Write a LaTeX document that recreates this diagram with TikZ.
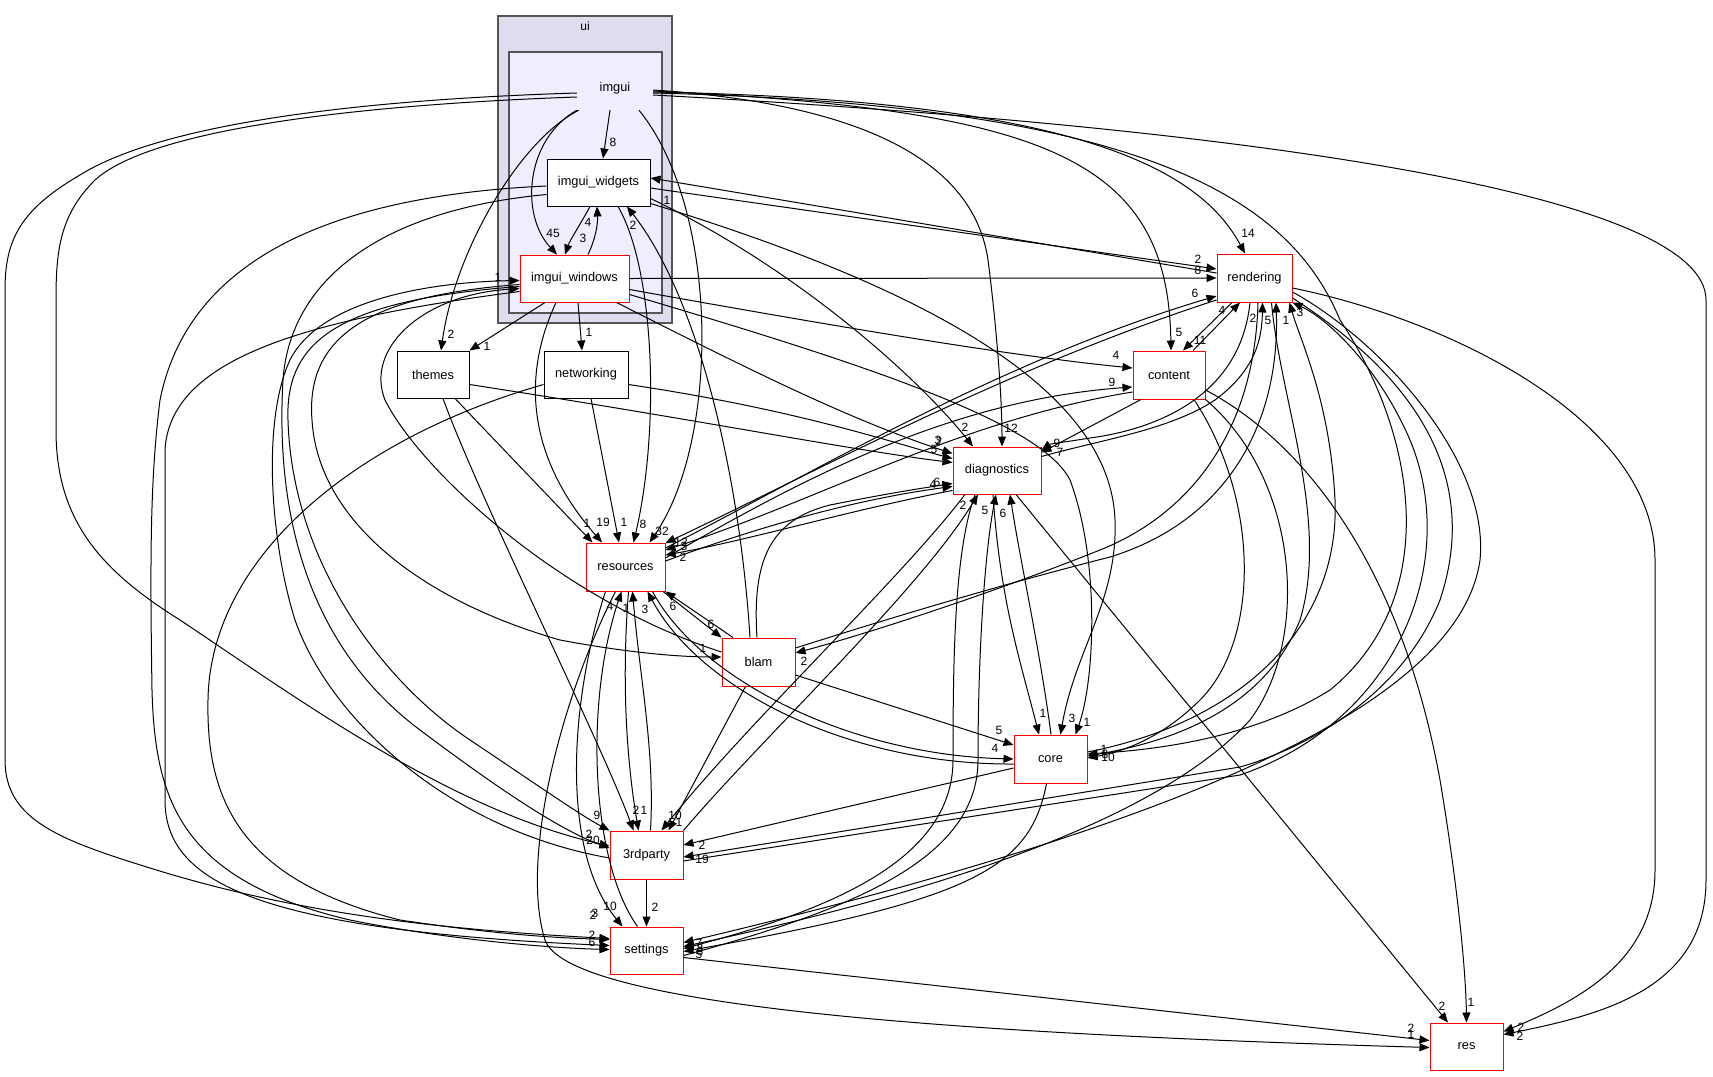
\documentclass[tikz,border=0pt]{standalone}
\usepackage{fontspec}
\setmainfont{Liberation Sans}
\usetikzlibrary{arrows.meta}
\definecolor{uifill}{HTML}{DDDDEE}
\definecolor{imguifill}{HTML}{EEEEFF}
\definecolor{clustline}{HTML}{555555}

\begin{document}
\begin{tikzpicture}[x=1pt, y=-1pt,
    dirbox/.style={draw=black, fill=white, line width=1pt, minimum width=73pt,
      minimum height=47pt, inner sep=0pt, font=\fontsize{12.8}{15}\selectfont},
    redbox/.style={dirbox, draw=red},
    dep/.style={line width=1pt, -{Triangle[length=10pt,width=8pt]}},
    lbl/.style={font=\fontsize{12}{14}\selectfont, inner sep=0pt}]
  \useasboundingbox[fill=white] (0,0) rectangle (1713,1076);

  % clusters
  \draw[fill=uifill, draw=clustline, line width=1.5pt] (498,16) rectangle (672,323);
  \draw[fill=imguifill, draw=clustline, line width=1.5pt] (509,52) rectangle (662,313);
  \node[lbl] (ui) at (585,26) {ui};

  % directories
  \node[font=\fontsize{12.8}{15}\selectfont, minimum width=76pt, minimum height=44pt,
    inner sep=0pt] (imgui) at (615,88) {imgui};
  \node[dirbox, minimum width=103pt] (wdg) at (598.5,182.5) {imgui\_widgets};
  \node[redbox, minimum width=109pt] (win) at (574.5,278.5) {imgui\_windows};
  \node[dirbox, minimum width=72pt] (thm) at (433,374.5) {themes};
  \node[dirbox, minimum width=84pt] (net) at (586,374.5) {networking};
  \node[redbox, minimum width=79pt, minimum height=48pt] (rsc) at (625.5,567) {resources};
  \node[redbox, minimum height=48pt] (blam) at (758.5,662) {blam};
  \node[redbox, minimum width=75pt, minimum height=48pt] (rnd) at (1254.5,278) {rendering};
  \node[redbox, minimum width=72pt, minimum height=48pt] (cnt) at (1169,375) {content};
  \node[redbox, minimum width=88pt] (diag) at (997,470.5) {diagnostics};
  \node[redbox, minimum height=48pt] (core) at (1050.5,759) {core};
  \node[redbox, minimum height=48pt] (tp) at (646.5,855) {3rdparty};
  \node[redbox] (set) at (646.5,950.5) {settings};
  \node[redbox] (res) at (1466.5,1046.5) {res};

  % imgui
  \draw[dep] ([xshift=-5]imgui.south) -- ([xshift=4.5]wdg.north) node[lbl] (l1) at (613,142) {8};
  \draw[dep] (imgui.south west) .. controls (525,140) and (520,215) .. ([xshift=-17.5]win.north)
    node[lbl] (l2) at (553,233) {45};
  \draw[dep] ([xshift=2]imgui.south west) .. controls (520,140) and (455,250) .. ([xshift=8]thm.north)
    node[lbl] (l3) at (451,334) {2};
  \draw[dep] ([xshift=24]imgui.south) .. controls (720,210) and (720,440) .. ([xshift=24]rsc.north)
    node[lbl] (l4) at (662,531) {32};
  \draw[dep] ([yshift=-2]imgui.east) .. controls (880,105) and (975,170) .. (988,260)
    .. controls (997,330) and (1002,400) .. ([xshift=5]diag.north) node[lbl] (l5) at (1011,428) {12};
  \draw[dep] ([yshift=-3]imgui.east) .. controls (1050,110) and (1168,160) .. ([xshift=2]cnt.north)
    node[lbl] (l6) at (1179,332) {5};
  \draw[dep] ([yshift=-4]imgui.east) .. controls (1080,100) and (1200,170) .. ([xshift=-9.5]rnd.north)
    node[lbl] (l7) at (1248,233) {14};
  \draw[dep] ([yshift=-5]imgui.east) .. controls (1150,105) and (1290,200) .. (1340,320)
    .. controls (1420,440) and (1440,600) .. (1330,690)
    .. controls (1250,740) and (1150,750) .. ([yshift=5]core.east) node[lbl] (l8) at (1104,749) {1};
  \draw[dep] ([yshift=-7]imgui.east) .. controls (1300,130) and (1706,200) .. (1706,300) -- (1706,880)
    .. controls (1706,990) and (1600,1015) .. ([yshift=12]res.east) node[lbl] (l9) at (1521,1027) {2};
  \draw[dep] ([yshift=-9]imgui.west) .. controls (350,105) and (150,130) .. (95,180)
    .. controls (60,215) and (56,250) .. (56,300) -- (56,430)
    .. controls (56,520) and (100,570) .. (180,620)
    .. controls (300,700) and (450,810) .. ([yshift=9]tp.west) node[lbl] (l10) at (593,840) {20};
  \draw[dep] ([yshift=-5]imgui.west) .. controls (350,100) and (160,125) .. (80,175)
    .. controls (20,210) and (5,240) .. (5,290) -- (5,760)
    .. controls (5,820) and (60,840) .. (150,868)
    .. controls (300,915) and (450,930) .. ([yshift=12]set.west) node[lbl] (l11) at (593,915) {2};

  % imgui_widgets
  \draw[dep] ([xshift=-8.5]wdg.south) .. controls (580,225) and (570,240) .. ([xshift=-9.5]win.north)
    node[lbl] (l12) at (583,238) {3};
  \draw[dep] ([xshift=13.5]win.north) .. controls (595,240) and (598,225) .. ([xshift=-1.5]wdg.south)
    node[lbl] (l13) at (588,222) {4};
  \draw[dep] ([yshift=-5.5]wdg.east) -- ([yshift=9]rnd.west) node[lbl] (l14) at (1198,259) {2};
  \draw[dep] ([yshift=5]rnd.west) -- ([yshift=4.5]wdg.east) node[lbl] (l15) at (667,200) {1};
  \draw[dep] ([yshift=-16]wdg.east) .. controls (800,270) and (920,380) .. ([xshift=-24]diag.north)
    node[lbl] (l16) at (965,427) {2};
  \draw[dep] ([yshift=-21]wdg.east) .. controls (900,280) and (1110,380) .. (1115,520)
    .. controls (1118,600) and (1075,650) .. ([xshift=10]core.north) node[lbl] (l17) at (1072,718) {3};
  \draw[dep] ([xshift=19.5]wdg.south) .. controls (655,270) and (660,430) .. ([xshift=8]rsc.north)
    node[lbl] (l18) at (643,524) {8};
  \draw[dep] ([yshift=-12]wdg.west) .. controls (380,210) and (290,280) .. (283,380)
    .. controls (276,500) and (300,640) .. (420,730)
    .. controls (500,790) and (560,830) .. ([yshift=7]tp.west) node[lbl] (l19) at (589,834) {2};
  \draw[dep] ([yshift=-3.5]wdg.west) .. controls (350,195) and (190,250) .. (160,400)
    .. controls (150,480) and (150,560) .. (152,690)
    .. controls (155,800) and (180,880) .. (350,920)
    .. controls (450,940) and (550,948) .. ([yshift=1]set.west) node[lbl] (l20) at (592,942) {6};
  \draw[dep] ([xshift=-8.5]blam.north) .. controls (740,480) and (700,300) .. ([xshift=28.5]wdg.south)
    node[lbl] (l21) at (633,225) {2};

  % imgui_windows
  \draw[dep] (win.east) -- (rnd.west) node[lbl] (l22) at (1198,270) {8};
  \draw[dep] ([xshift=-29.5]win.south) -- (thm.north east) node[lbl] (l23) at (487,346) {1};
  \draw[dep] ([xshift=3.5]win.south) -- ([xshift=-4]net.north) node[lbl] (l24) at (589,332) {1};
  \draw[dep] ([xshift=-18.5]win.south) .. controls (520,380) and (530,460) .. ([xshift=-23.5]rsc.north)
    node[lbl] (l25) at (603,522) {19};
  \draw[dep] ([xshift=42]win.south) .. controls (750,370) and (850,420) .. ([yshift=17]diag.west)
    node[lbl] (l26) at (938,440) {3};
  \draw[dep] ([yshift=-11]win.east) .. controls (800,320) and (1000,355) .. ([yshift=7]cnt.west)
    node[lbl] (l27) at (1116,355) {4};
  \draw[dep] ([yshift=-16]win.east) .. controls (850,360) and (1040,420) .. (1070,480)
    .. controls (1100,560) and (1095,680) .. ([xshift=25]core.north) node[lbl] (l28) at (1087,722) {1};
  \draw[dep] ([yshift=-6]win.west) .. controls (380,295) and (305,330) .. (312,420)
    .. controls (318,520) and (420,600) .. (560,640)
    .. controls (640,655) and (690,657) .. ([yshift=5]blam.west) node[lbl] (l29) at (703,648) {1};
  \draw[dep] ([yshift=10]blam.west) .. controls (560,600) and (420,470) .. (385,400)
    .. controls (365,350) and (420,295) .. ([yshift=-10]win.west);
  \draw[dep] ([yshift=-8]win.west) .. controls (340,300) and (285,340) .. (288,420)
    .. controls (292,560) and (380,680) .. (470,740)
    .. controls (530,780) and (580,815) .. (tp.north west) node[lbl] (l31) at (597,815) {9};
  \draw[dep] ([yshift=-3]tp.west) .. controls (450,830) and (330,720) .. (295,620)
    .. controls (270,540) and (262,420) .. (290,360)
    .. controls (320,300) and (430,282) .. ([yshift=-2]win.west) node[lbl] (l32) at (498,277) {1};
  \draw[dep] ([yshift=-13]win.west) .. controls (300,320) and (170,360) .. (165,450) -- (165,800)
    .. controls (165,880) and (250,930) .. ([yshift=5]set.west) node[lbl] (l33) at (592,935) {2};

  % themes, networking
  \draw[dep] ([xshift=5]net.south) -- ([xshift=-6.5]rsc.north) node[lbl] (l34) at (624,522) {1};
  \draw[dep] ([yshift=-10]net.east) .. controls (800,410) and (900,445) .. ([yshift=12]diag.west)
    node[lbl] (l35) at (939,441) {2};
  \draw[dep] ([yshift=-10]net.west) .. controls (350,440) and (210,560) .. (208,700)
    .. controls (206,800) and (240,880) .. (400,920)
    .. controls (500,935) and (560,938) .. ([yshift=11]set.west) node[lbl] (l36) at (595,913) {3};
  \draw[dep] ([xshift=22]thm.south) -- ([xshift=-33]rsc.north) node[lbl] (l37) at (587,523) {1};
  \draw[dep] ([yshift=-10]thm.east) .. controls (700,420) and (850,450) .. ([yshift=8]diag.west)
    node[lbl] (l38) at (934,449) {5};
  \draw[dep] ([xshift=10]thm.south) .. controls (480,500) and (600,740) .. ([xshift=-13]tp.north)
    node[lbl] (l39) at (636,810) {2};

  % resources
  \draw[dep] ([yshift=19]rsc.east) .. controls (800,480) and (1000,360) .. ([yshift=-18]rnd.west)
    node[lbl] (l40) at (1195,293) {6};
  \draw[dep] ([yshift=-22]rnd.west) .. controls (1000,370) and (800,480) .. ([yshift=24]rsc.east)
    node[lbl] (l41) at (681,542) {12};
  \draw[dep] ([yshift=9]rsc.east) .. controls (800,480) and (950,400) .. ([yshift=-12]cnt.west)
    node[lbl] (l42) at (1112,382) {9};
  \draw[dep] ([yshift=-17]cnt.west) .. controls (960,420) and (820,500) .. ([yshift=17]rsc.east)
    node[lbl] (l43) at (684,546) {3};
  \draw[dep] ([yshift=6]rsc.east) .. controls (750,530) and (850,500) .. ([yshift=-16]diag.west)
    node[lbl] (l44) at (933,484) {4};
  \draw[dep] ([yshift=-20]diag.west) .. controls (850,510) and (750,540) .. ([yshift=12]rsc.east)
    node[lbl] (l45) at (683,557) {2};
  \draw[dep] ([xshift=-1.5]blam.north) .. controls (752,560) and (770,520) .. (830,505)
    .. controls (880,495) and (910,490) .. ([yshift=-13]diag.west) node[lbl] (l46) at (937,482) {6};
  \draw[dep] ([xshift=37.5]rsc.south) -- (blam.north west) node[lbl] (l47) at (711,624) {6};
  \draw[dep] ([xshift=-25.5]blam.north) -- (rsc.south east) node[lbl] (l48) at (673,606) {6};
  \draw[dep] ([xshift=27]rsc.south) .. controls (700,680) and (850,755) .. (core.west)
    node[lbl] (l49) at (995,748) {4};
  \draw[dep] ([yshift=-5]core.west) .. controls (850,765) and (700,690) .. ([xshift=22]rsc.south)
    node[lbl] (l50) at (645,609) {3};
  \draw[dep] ([xshift=-20]rsc.south) .. controls (570,700) and (560,850) .. ([xshift=-24]set.north)
    node[lbl] (l51) at (610,906) {10};
  \draw[dep] ([xshift=-9]set.north) .. controls (590,860) and (585,700) .. ([xshift=-4]rsc.south)
    node[lbl] (l52) at (610,606) {4};
  \draw[dep] ([xshift=3]rsc.south) .. controls (620,700) and (630,780) .. ([xshift=-8]tp.north)
    node[lbl] (l53) at (644,810) {1};
  \draw[dep] ([xshift=4]tp.north) .. controls (655,750) and (640,680) .. ([xshift=7]rsc.south)
    node[lbl] (l54) at (626,608) {1};
  \draw[dep] ([xshift=-10]rsc.south) .. controls (560,700) and (520,860) .. (545,940)
    .. controls (570,1010) and (1000,1035) .. ([yshift=-1]res.west) node[lbl] (l55) at (1411,1034) {1};

  % blam
  \draw[dep] ([yshift=-13]blam.east) -- ([yshift=14]core.west) node[lbl] (l56) at (999,730) {5};
  \draw[dep] ([xshift=-13]blam.south) -- ([xshift=22]tp.north) node[lbl] (l57) at (679,822) {1};
  \draw[dep] ([xshift=3.5]rnd.south) .. controls (1255,420) and (1200,510) .. (1100,550)
    .. controls (1000,590) and (880,630) .. ([yshift=9]blam.east) node[lbl] (l58) at (804,661) {2};
  \draw[dep] ([yshift=14]blam.east) .. controls (900,615) and (1000,585) .. (1110,557)
    .. controls (1230,520) and (1280,420) .. ([xshift=21.5]rnd.south) node[lbl] (l59) at (1268,320) {5};

  % rendering, content
  \draw[dep] ([xshift=-22.5]rnd.south) -- ([xshift=14]cnt.north) node[lbl] (l60) at (1200,340) {11};
  \draw[dep] ([xshift=24]cnt.north) -- ([xshift=-14.5]rnd.south) node[lbl] (l61) at (1222,310) {4};
  \draw[dep] ([xshift=-4.5]rnd.south) .. controls (1240,400) and (1150,430) .. (1090,438)
    .. controls (1065,442) and (1050,444) .. ([yshift=20.5]diag.east) node[lbl] (l62) at (1057,443) {9};
  \draw[dep] ([yshift=14]diag.east) .. controls (1100,440) and (1170,430) .. (1215,400)
    .. controls (1255,370) and (1262,340) .. ([xshift=8]rnd.south) node[lbl] (l63) at (1253,318) {2};
  \draw[dep] ([xshift=-28]cnt.south) -- ([yshift=18]diag.east) node[lbl] (l64) at (1060,452) {7};
  \draw[dep] ([yshift=-10]rnd.east) .. controls (1450,320) and (1655,420) .. (1655,560) -- (1655,870)
    .. controls (1655,960) and (1580,1000) .. ([yshift=15]res.east) node[lbl] (l65) at (1520,1036) {2};
  \draw[dep] ([yshift=7]core.east) .. controls (1250,720) and (1340,620) .. (1335,500)
    .. controls (1330,400) and (1300,340) .. ([xshift=35]rnd.south) node[lbl] (l66) at (1286,320) {1};
  \draw[dep] ([xshift=17]rnd.south) .. controls (1280,400) and (1330,520) .. (1300,620)
    .. controls (1260,720) and (1150,745) .. ([yshift=3]core.east) node[lbl] (l67) at (1105,754) {8};
  \draw[dep] ([yshift=-20]rnd.east) .. controls (1420,380) and (1480,480) .. (1440,600)
    .. controls (1400,700) and (1300,750) .. (1240,767) -- ([yshift=-2]tp.east)
    node[lbl] (l68) at (702,859) {19};
  \draw[dep] ([yshift=-6]tp.east) -- (1240,775) .. controls (1400,720) and (1460,560) .. (1410,440)
    .. controls (1380,370) and (1330,320) .. (rnd.south east) node[lbl] (l69) at (1300,312) {3};
  \draw[dep] ([yshift=-14]rnd.east) .. controls (1380,340) and (1490,460) .. (1480,560)
    .. controls (1460,700) and (1200,820) .. ([yshift=8]set.east) node[lbl] (l70) at (699,943) {7};
  \draw[dep] ([xshift=25]cnt.south) .. controls (1260,500) and (1260,640) .. (1200,700)
    .. controls (1160,740) and (1120,752) .. ([yshift=1]core.east) node[lbl] (l71) at (1108,757) {10};
  \draw[dep] (cnt.south east) .. controls (1300,480) and (1310,640) .. (1250,720)
    .. controls (1150,830) and (900,900) .. ([yshift=4]set.east) node[lbl] (l72) at (700,948) {3};
  \draw[dep] ([yshift=-15]cnt.east) .. controls (1300,440) and (1400,560) .. (1440,780)
    .. controls (1460,900) and (1466,980) .. (res.north) node[lbl] (l73) at (1471,1002) {1};

  % diagnostics, core, 3rdparty, settings
  \draw[dep] ([xshift=19]diag.south) -- ([xshift=-18.5]res.north) node[lbl] (l74) at (1442,1006) {2};
  \draw[dep] ([xshift=-4]diag.south) .. controls (1000,600) and (1020,660) .. ([xshift=-11.5]core.north)
    node[lbl] (l75) at (1043,713) {1};
  \draw[dep] ([xshift=0.5]core.north) .. controls (1040,650) and (1020,560) .. ([xshift=13]diag.south)
    node[lbl] (l76) at (1003,513) {6};
  \draw[dep] ([xshift=-22]diag.south) .. controls (955,550) and (953,650) .. (953,760)
    .. controls (953,860) and (830,910) .. ([yshift=2]set.east) node[lbl] (l77) at (700,951) {8};
  \draw[dep] ([yshift=-5]set.east) .. controls (850,910) and (978,860) .. (978,760)
    .. controls (978,650) and (985,550) .. ([xshift=-1]diag.south) node[lbl] (l78) at (985,510) {5};
  \draw[dep] ([xshift=-32]diag.south) .. controls (900,580) and (750,720) .. ([xshift=15]tp.north)
    node[lbl] (l79) at (675,815) {10};
  \draw[dep] (tp.north east) .. controls (760,740) and (920,590) .. ([xshift=-19]diag.south)
    node[lbl] (l80) at (963,505) {2};
  \draw[dep] ([yshift=-9]core.west) -- ([yshift=10]tp.east) node[lbl] (l81) at (702,845) {2};
  \draw[dep] ([xshift=-4]core.south) .. controls (1030,870) and (970,900) .. ([yshift=-1]set.east)
    node[lbl] (l82) at (699,954) {5};
  \draw[dep] (tp.south) -- (set.north) node[lbl] (l83) at (655,907) {2};
  \draw[dep] ([yshift=-7]set.east) -- ([yshift=6]res.west) node[lbl] (l84) at (1411,1028) {2};
\end{tikzpicture}
\end{document}
